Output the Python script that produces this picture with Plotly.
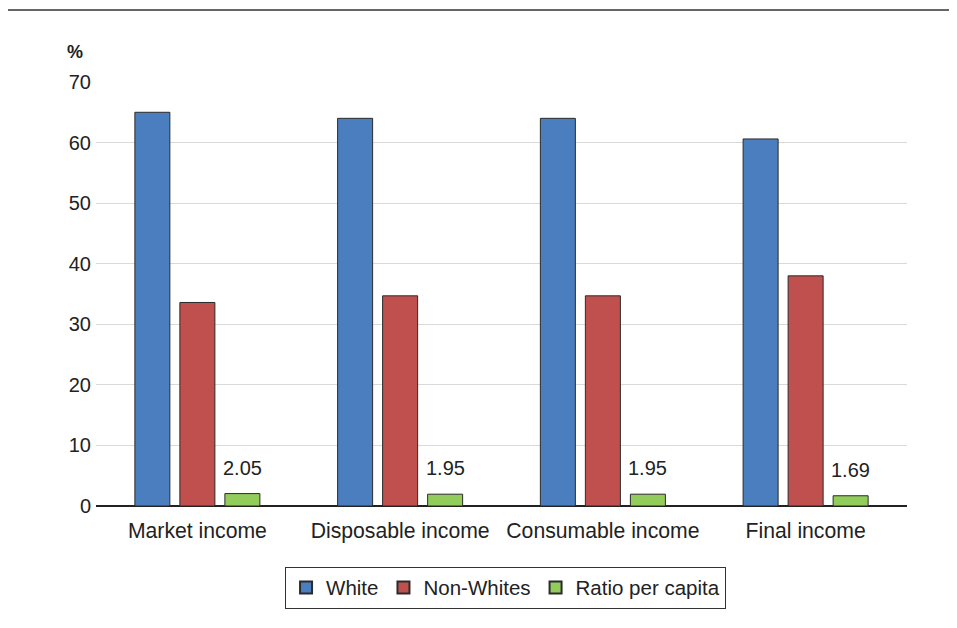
import plotly.graph_objects as go

categories = ["Market income", "Disposable income", "Consumable income", "Final income"]
white = [65.0, 64.0, 64.0, 60.6]
non_whites = [33.6, 34.7, 34.7, 38.0]
ratio = [2.05, 1.95, 1.95, 1.69]
ratio_labels = ["2.05", "1.95", "1.95", "1.69"]
y_ticks = [0, 10, 20, 30, 40, 50, 60, 70]

FONT = "Liberation Sans, Arial, Helvetica, sans-serif"
outline = dict(color="#2b2b2b", width=1)

fig = go.Figure()
fig.add_trace(go.Bar(name="White", x=categories, y=white,
                     marker=dict(color="#4A7EBF", line=outline)))
fig.add_trace(go.Bar(name="Non-Whites", x=categories, y=non_whites,
                     marker=dict(color="#C0504D", line=outline)))
fig.add_trace(go.Bar(name="Ratio per capita", x=categories, y=ratio,
                     marker=dict(color="#92CD5C", line=outline)))

# value labels above ratio bars
for c, v, t in zip(categories, ratio, ratio_labels):
    fig.add_annotation(x=c, y=v, text=t, xshift=45, yshift=26, showarrow=False,
                       xref="x", yref="y", font=dict(size=20, color="#222222", family=FONT))

fig.add_annotation(text="<b>%</b>", xref="paper", yref="paper", x=-0.026, y=1.071,
                   xanchor="center", yanchor="middle",
                   showarrow=False, font=dict(size=18, color="#222222", family=FONT))

fig.add_shape(type="line", xref="paper", yref="paper", x0=-0.115, x1=1.13, y0=1.17, y1=1.17,
              line=dict(color="#333333", width=1.5))

fig.update_layout(
    width=957, height=628,
    margin=dict(l=88, r=58, t=74, b=130),
    paper_bgcolor="white", plot_bgcolor="white",
    barmode="group", bargap=0.334, bargroupgap=0.222,
    font=dict(family=FONT, size=20, color="#222222"),
    showlegend=True,
    legend=dict(orientation="h", x=0.505, xanchor="center", y=-0.143, yanchor="top",
                bordercolor="#333333", borderwidth=1, font=dict(size=20.5, family=FONT),
                itemsizing="constant", traceorder="normal", itemwidth=30),
    xaxis=dict(showline=False, ticks="", tickfont=dict(size=21.2), showgrid=False,
               ticklabelstandoff=10),
    yaxis=dict(range=[0, 70], tickvals=y_ticks, showgrid=True, gridcolor="#d9d9d9",
               gridwidth=1, zeroline=True, zerolinecolor="#222222", zerolinewidth=2,
               ticks="", tickfont=dict(size=20), showline=False, ticklabelstandoff=4),
)

fig.write_html("out.html")
